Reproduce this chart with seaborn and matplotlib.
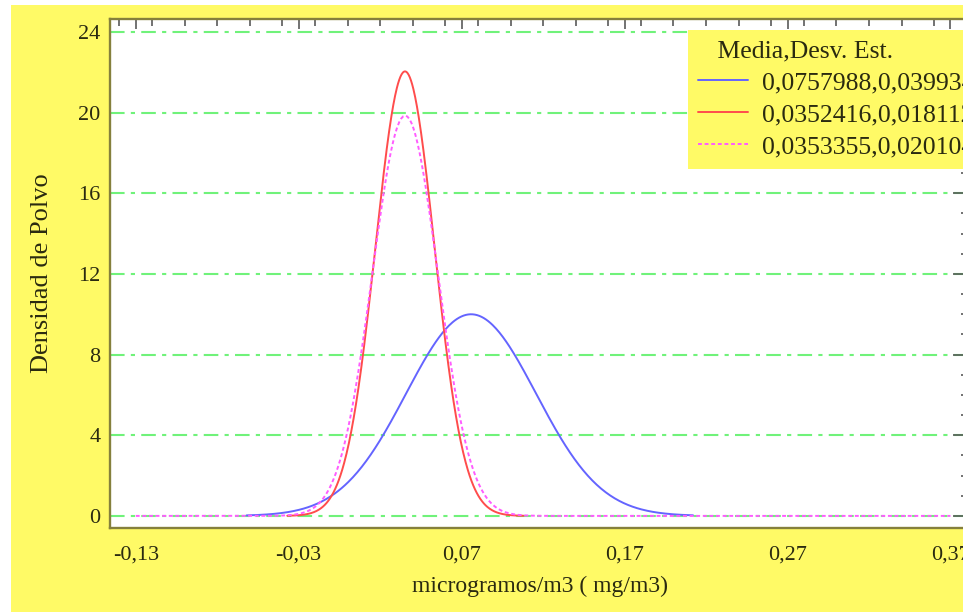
import numpy as np
import pandas as pd
import matplotlib
matplotlib.use("Agg")
import matplotlib.pyplot as plt
import seaborn as sns
from matplotlib.patches import Rectangle
from matplotlib.ticker import MultipleLocator

# ==========================================================
# 1. DATOS (leidos de la leyenda y de los ejes)
# ==========================================================
medias = [0.0757988, 0.0352416, 0.0353355]
desv_est = [0.0399, 0.0181, 0.0201]
etiquetas = ["0,0757988,0,0399348", "0,0352416,0,0181127", "0,0353355,0,0201040"]
x_desde = [-0.062, -0.037, -0.13]
x_hasta = [0.212, 0.108, 0.37]

x_ticks = [-0.13, -0.03, 0.07, 0.17, 0.27, 0.37]
x_tick_labels = ["-0,13", "-0,03", "0,07", "0,17", "0,27", "0,37"]
y_ticks = [0, 4, 8, 12, 16, 20, 24]
y_tick_labels = ["0", "4", "8", "12", "16", "20", "24"]

# ==========================================================
# 2. ESTILO
# ==========================================================
sns.set_theme(style="white")
plt.rcParams["font.family"] = ["Liberation Serif", "DejaVu Serif"]

AMARILLO = "#fffa66"
TEXTO = "#2a2a10"
colores = ["#6464ff", "#ff4c4c", "#ff5cff"]
estilos = ["-", "-", (0, (2, 1.4))]

# curvas normales con los parametros de la leyenda
filas = []
for nombre, m, s, a, b in zip(etiquetas, medias, desv_est, x_desde, x_hasta):
    x = np.linspace(a, b, 400)
    y = np.exp(-0.5 * ((x - m) / s) ** 2) / (s * np.sqrt(2 * np.pi))
    filas.append(pd.DataFrame({"x": x, "densidad": y, "serie": nombre}))
curvas = pd.concat(filas, ignore_index=True)

# ==========================================================
# 3. GRAFICO
# ==========================================================
fig = plt.figure(figsize=(9.63, 6.12), dpi=100)
fig.patch.set_facecolor("white")
fig.patches.append(Rectangle((11 / 963, 0), 1, 607 / 612, transform=fig.transFigure,
                             facecolor=AMARILLO, edgecolor="none", zorder=-10))

ax = fig.add_axes([110 / 963, 84 / 612, 860 / 963, 509 / 612])
ax.set_facecolor("white")

handles = []
for nombre, color, ls in zip(etiquetas, colores, estilos):
    sub = curvas[curvas["serie"] == nombre]
    sns.lineplot(data=sub, x="x", y="densidad", ax=ax, color=color,
                 linestyle=ls, linewidth=1.4, legend=False, zorder=3)
    handles.append(ax.lines[-1])

ax.set_xlim(-0.1458, 0.382)
ax.set_ylim(-0.6, 24.64)

ax.set_xticks(x_ticks)
ax.set_xticklabels(x_tick_labels)
ax.set_yticks(y_ticks)
ax.set_yticklabels(y_tick_labels)
ax.xaxis.set_minor_locator(MultipleLocator(0.02))
ax.yaxis.set_minor_locator(MultipleLocator(1))

ax.tick_params(axis="both", which="both", direction="in", top=True, right=True,
               color="#5a5a5a", width=1.2, labelsize=16, labelcolor=TEXTO)
ax.tick_params(axis="y", which="major", length=12, pad=7)
ax.tick_params(axis="y", which="minor", length=6.5)
ax.tick_params(axis="x", which="major", length=7.5, pad=12.5)
ax.tick_params(axis="x", which="minor", length=5)

for sp in ax.spines.values():
    sp.set_color("#85803c")
    sp.set_linewidth(1.7)

ax.yaxis.grid(True, color="#70f27a", linestyle=(0, (7, 3, 2, 3)), linewidth=1.5)
ax.xaxis.grid(False)
ax.set_axisbelow(True)

ax.set_xlabel("microgramos/m3 ( mg/m3)", fontsize=17, color=TEXTO, labelpad=8)
ax.set_ylabel("Densidad de Polvo", fontsize=19, color=TEXTO, labelpad=18)

leg = ax.legend(handles, etiquetas, loc="upper left", bbox_to_anchor=(0.672, 0.978),
                title="   Media,Desv. Est.", fontsize=18.5, title_fontsize=18.5,
                frameon=True, facecolor=AMARILLO, edgecolor="none", framealpha=1,
                fancybox=False, handlelength=1.95, handletextpad=0.55,
                labelspacing=0.35, borderpad=0.4, borderaxespad=0, alignment="left")
leg.get_title().set_color(TEXTO)
for t in leg.get_texts():
    t.set_color(TEXTO)

fig.savefig("out.png", dpi=100, facecolor=fig.get_facecolor())
plt.close(fig)
